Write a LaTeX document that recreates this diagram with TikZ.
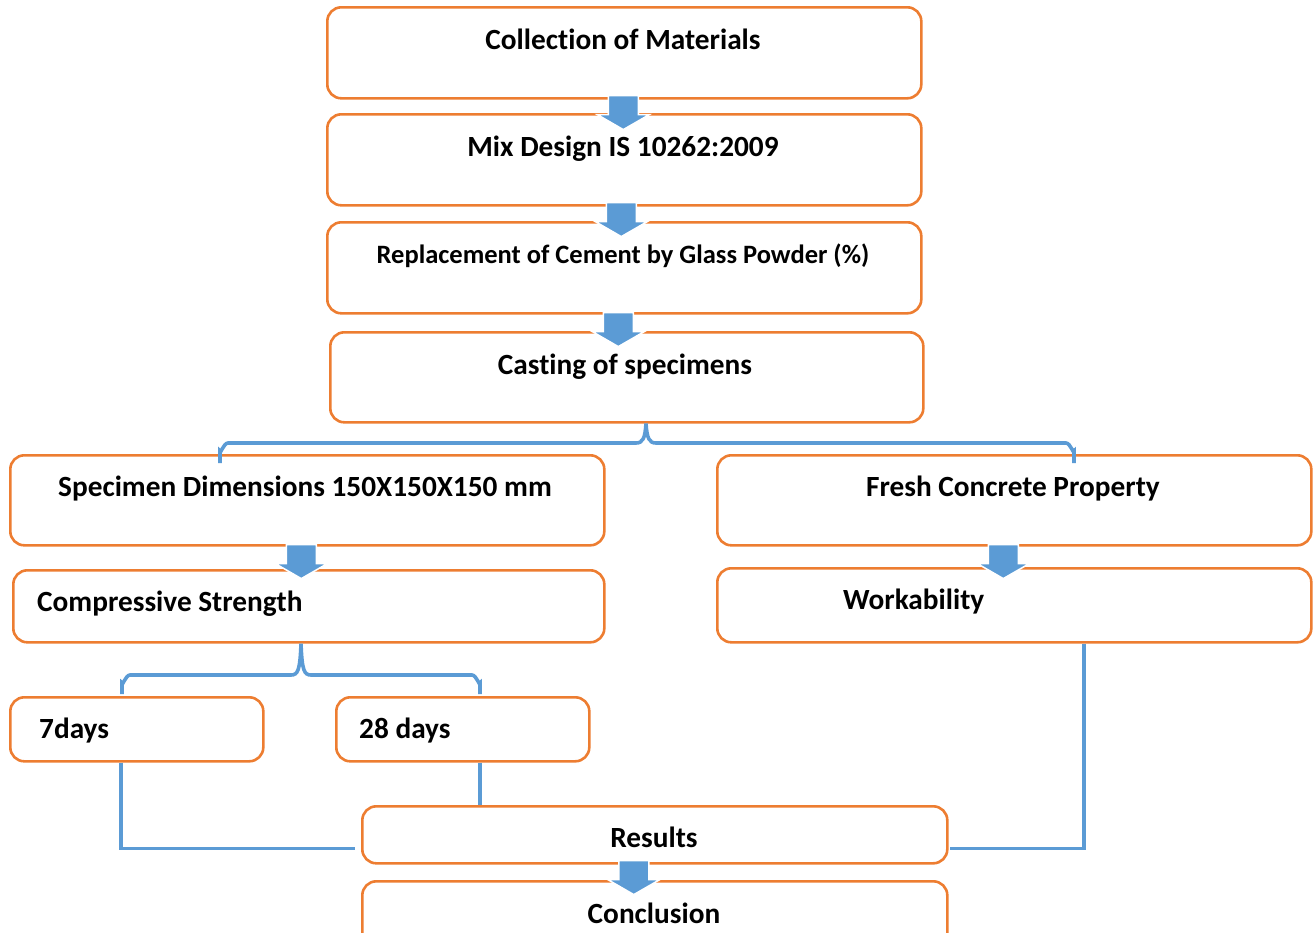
\documentclass[tikz,border=0pt]{standalone}
\usepackage{fontspec}
\setmainfont[Ligatures=NoCommon]{Carlito}
\usetikzlibrary{calc}
\definecolor{boxorange}{HTML}{ED7D31}
\definecolor{linkblue}{HTML}{5B9BD5}
\tikzset{
  x=1pt,y=-1pt,
  box/.style={draw=boxorange, line width=2.6pt, rounded corners=14pt, anchor=north west, inner sep=0pt},
  lbl/.style={font=\fontsize{29.3}{34}\selectfont\bfseries, inner sep=0pt, anchor=mid},
  lblw/.style={lbl, anchor=mid west},
  link/.style={draw=linkblue, line width=3.6pt},
  blockarrow/.pic={
    \fill[linkblue, draw=white, line width=1.5pt]
      (-15,0) -- (15,0) -- (15,19) -- (26,19) -- (0,34) -- (-26,19) -- (-15,19) -- cycle;
  }
}
\begin{document}
\begin{tikzpicture}
\useasboundingbox (0,0) rectangle (1314,932);
% boxes
\node[box, minimum width=594, minimum height=91] (b1) at (326,6) {};
\node[box, minimum width=594, minimum height=91] (b2) at (326,113) {};
\node[box, minimum width=594, minimum height=91] (b3) at (326,221) {};
\node[box, minimum width=593, minimum height=90] (b4) at (329,331) {};
\node[box, minimum width=594, minimum height=90] (b5) at (9,454) {};
\node[box, minimum width=594, minimum height=90] (b6) at (716,454) {};
\node[box, minimum width=591, minimum height=72] (b7) at (12,569) {};
\node[box, minimum width=594, minimum height=74] (b8) at (716,567) {};
\node[box, minimum width=253, minimum height=64] (b9) at (9,696) {};
\node[box, minimum width=253, minimum height=64] (b10) at (335,696) {};
\node[box, minimum width=585, minimum height=57] (b11) at (361,805) {};
\node[box, minimum width=585, minimum height=90] (b12) at (361,880) {};
% texts
\node[lbl] (t1) at (623,47) {Collection of Materials};
\node[lbl] (t2) at (623,154) {Mix Design IS 10262:2009};
\node[lbl, font=\fontsize{26.5}{31}\selectfont\bfseries] (t3) at (623,261) {Replacement of Cement by Glass Powder (\%)};
\node[lbl] (t4) at (625,372) {Casting of specimens};
\node[lbl] (t5) at (305,494) {Specimen Dimensions 150X150X150 mm};
\node[lbl] (t6) at (1013,494) {Fresh Concrete Property};
\node[lblw] (t7) at (37,609) {Compressive Strength};
\node[lblw] (t8) at (843,607) {Workability};
\node[lblw] (t9) at (39,736) {7days};
\node[lblw] (t10) at (359,736) {28 days};
\node[lbl] (t11) at (654,845) {Results};
\node[lbl] (t12) at (654,921) {Conclusion};
% block arrows
\pic at ($(b1.south)+(-1,-4)$) {blockarrow};
\pic at ($(b2.south)+(-3,-4)$) {blockarrow};
\pic at ($(b3.south)+(-6,-2)$) {blockarrow};
\pic at ($(b5.south)+(-6,-2)$) {blockarrow};
\pic at ($(b6.south)+(-11,-2)$) {blockarrow};
\pic at ($(b11.south)+(-21,-4)$) {blockarrow};
% top brace
\draw[link] (220,463) -- (220,451) to[out=-90,in=180] (228,443) -- (636,443)
  .. controls (643,443) and (645,438) .. (b4.south -| 646,0)
  .. controls (647,438) and (649,443) .. (656,443) -- (1066,443)
  to[out=0,in=-90] (1074,451) -- (1074,463);
% bottom brace
\draw[link] (122,694) -- (122,683) to[out=-90,in=180] (130,675) -- (291,675)
  .. controls (298,675) and (300,670) .. (b7.south -| 301,0)
  .. controls (302,670) and (304,675) .. (311,675) -- (472,675)
  to[out=0,in=-90] (480,683) -- (480,694);
% links to results
\draw[link] ([xshift=112pt]b9.south west) |- ([xshift=-6pt,yshift=-13.5pt]b11.west);
\draw[link] ([xshift=145pt]b10.south west) -- ([xshift=145pt]b10.south west |- b11.north);
\draw[link] ([xshift=368pt]b8.south west) |- ([xshift=1pt,yshift=-13.5pt]b11.east);
\end{tikzpicture}
\end{document}
